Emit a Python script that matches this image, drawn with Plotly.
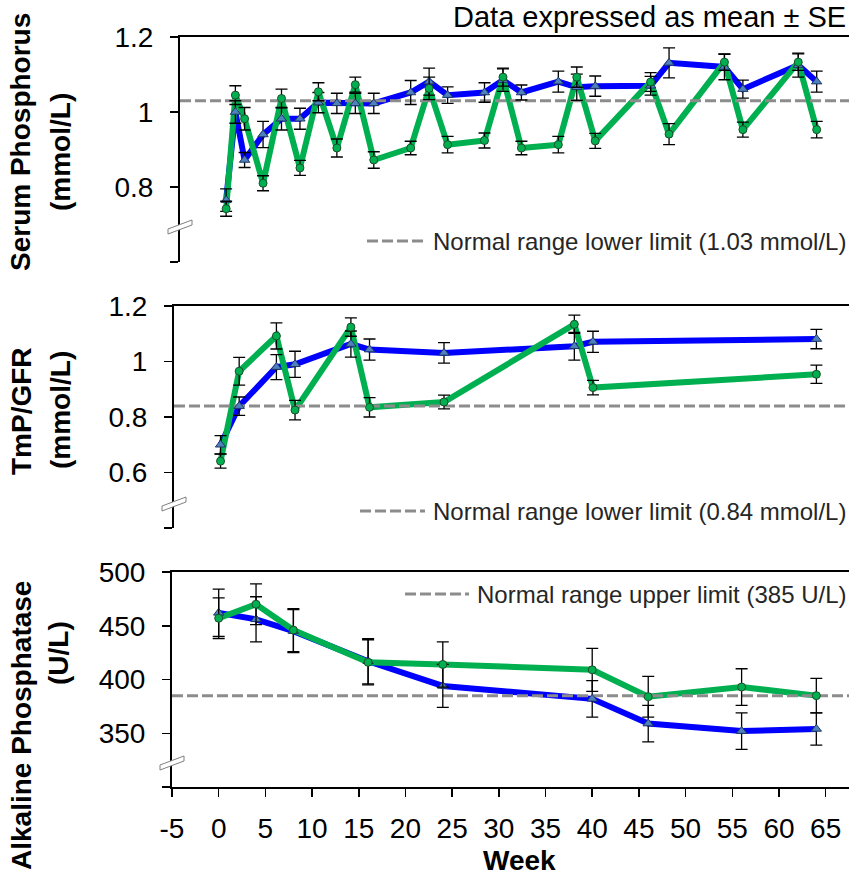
import plotly.graph_objects as go

W, H = 850, 878
FONT = "Liberation Sans, Arial, sans-serif"

# ---------------- data ----------------
# Serum phosphorus (mmol/L)
sp_weeks = [0, 1, 2, 4, 6, 8, 10, 12, 14, 16, 20, 22, 24, 28, 30, 32, 36, 38, 40, 46, 48, 54, 56, 62, 64]
sp_blue = [0.765, 1.00, 0.872, 0.94, 0.982, 0.982, 1.025, 1.023, 1.023, 1.023, 1.052, 1.081, 1.045, 1.052,
           1.085, 1.052, 1.081, 1.066, 1.069, 1.07, 1.131, 1.12, 1.061, 1.125, 1.081]
sp_blue_se = [0.03, 0.03, 0.02, 0.035, 0.03, 0.028, 0.027, 0.027, 0.027, 0.027, 0.032, 0.036, 0.022, 0.026,
              0.03, 0.02, 0.028, 0.035, 0.027, 0.025, 0.04, 0.034, 0.024, 0.032, 0.028]
sp_green = [0.742, 1.045, 0.982, 0.81, 1.036, 0.851, 1.054, 0.904, 1.073, 0.872, 0.904, 1.063, 0.913, 0.924,
            1.093, 0.904, 0.913, 1.093, 0.923, 1.08, 0.941, 1.133, 0.953, 1.133, 0.953]
sp_green_se = [0.02, 0.025, 0.03, 0.02, 0.025, 0.02, 0.024, 0.024, 0.02, 0.022, 0.018, 0.03, 0.022, 0.02,
               0.024, 0.018, 0.022, 0.027, 0.02, 0.025, 0.028, 0.022, 0.02, 0.022, 0.022]
sp_limit = 1.03

# TmP/GFR (mmol/L)
tmp_weeks = [0, 2, 6, 8, 14, 16, 24, 38, 40, 64]
tmp_blue = [0.70, 0.839, 0.98, 0.99, 1.063, 1.043, 1.031, 1.055, 1.071, 1.081]
tmp_blue_se = [0.033, 0.033, 0.045, 0.047, 0.047, 0.038, 0.037, 0.05, 0.038, 0.035]
tmp_green = [0.641, 0.965, 1.092, 0.825, 1.124, 0.835, 0.854, 1.134, 0.906, 0.954]
tmp_green_se = [0.025, 0.05, 0.047, 0.035, 0.033, 0.035, 0.025, 0.033, 0.026, 0.033]
tmp_limit = 0.84

# Alkaline phosphatase (U/L)
alp_weeks = [0, 4, 8, 16, 24, 40, 46, 56, 64]
alp_blue = [462, 456, 445, 417, 394, 382, 359, 352, 354]
alp_blue_se = [22, 21, 20, 21, 20, 17, 17, 17, 15]
alp_green = [457, 470, 446, 416, 414, 409, 384, 393, 385]
alp_green_se = [19, 19, 20, 21, 21, 20, 19, 17, 16]
alp_limit = 385

x_ticks = list(range(-5, 70, 5))
x_range = [-5, 67.5]

# ---------------- styling ----------------
BLUE = "#0000FF"
GREEN = "#00B050"
TRI_FILL = "#4F81BD"
TRI_EDGE = "#1F3864"
CIRC_EDGE = "#1E4D2B"
DASH_COL = "#8C8C8C"
DASH = "11px,4px"
TICK_SIZE = 28


def px(x):
    return x / W


def py(y):
    return 1 - y / H


panels = [
    dict(x="x", y="y", xd=(180, 849), yd=(37, 262), yr=[0.6, 1.2],
         tv=[0.6, 0.8, 1.0, 1.2], tt=["", "0.8", "1", "1.2"],
         weeks=sp_weeks, blue=sp_blue, bse=sp_blue_se, green=sp_green, gse=sp_green_se, lim=sp_limit,
         brk=(180, 228),
         leg_text="Normal range lower limit (1.03 mmol/L)", leg_y=241, leg_dash=(367, 425),
         titles=[("Serum Phosphorus", 21, 142), ("(mmol/L)", 60, 152)]),
    dict(x="x2", y="y2", xd=(174, 849), yd=(306, 528), yr=[0.4, 1.2],
         tv=[0.4, 0.6, 0.8, 1.0, 1.2], tt=["", "0.6", "0.8", "1", "1.2"],
         weeks=tmp_weeks, blue=tmp_blue, bse=tmp_blue_se, green=tmp_green, gse=tmp_green_se, lim=tmp_limit,
         brk=(174, 505),
         leg_text="Normal range lower limit (0.84 mmol/L)", leg_y=511, leg_dash=(360, 425),
         titles=[("TmP/GFR", 21, 411), ("(mmol/L)", 60, 410)]),
    dict(x="x3", y="y3", xd=(172, 849), yd=(572, 787), yr=[300, 500],
         tv=[300, 350, 400, 450, 500], tt=["", "350", "400", "450", "500"],
         weeks=alp_weeks, blue=alp_blue, bse=alp_blue_se, green=alp_green, gse=alp_green_se, lim=alp_limit,
         brk=(172, 764),
         leg_text="Normal range upper limit (385 U/L)", leg_y=594, leg_dash=(405, 469),
         titles=[("Alkaline Phosphatase", 21, 726), ("(U/L)", 58, 653)]),
]

fig = go.Figure()
shapes = []
annotations = []
layout_axes = {}

for i, p in enumerate(panels):
    xa, ya = p["x"], p["y"]
    # lines
    fig.add_trace(go.Scatter(x=p["weeks"], y=p["blue"], mode="lines", xaxis=xa, yaxis=ya,
                             line=dict(color=BLUE, width=6), hoverinfo="skip", showlegend=False))
    fig.add_trace(go.Scatter(x=p["weeks"], y=p["green"], mode="lines", xaxis=xa, yaxis=ya,
                             line=dict(color=GREEN, width=6), hoverinfo="skip", showlegend=False))
    # reference line
    fig.add_trace(go.Scatter(x=x_range, y=[p["lim"], p["lim"]], mode="lines", xaxis=xa, yaxis=ya,
                             line=dict(color=DASH_COL, width=3, dash=DASH), hoverinfo="skip",
                             showlegend=False))
    # markers + SE
    fig.add_trace(go.Scatter(x=p["weeks"], y=p["blue"], mode="markers", xaxis=xa, yaxis=ya,
                             marker=dict(symbol="triangle-up", size=9, color=TRI_FILL,
                                         line=dict(color=TRI_EDGE, width=1)),
                             error_y=dict(type="data", array=p["bse"], color="black", thickness=1.3, width=6),
                             showlegend=False))
    fig.add_trace(go.Scatter(x=p["weeks"], y=p["green"], mode="markers", xaxis=xa, yaxis=ya,
                             marker=dict(symbol="circle", size=8, color=GREEN,
                                         line=dict(color=CIRC_EDGE, width=1)),
                             error_y=dict(type="data", array=p["gse"], color="black", thickness=1.3, width=6),
                             showlegend=False))

    xkey = "xaxis" if xa == "x" else "xaxis" + xa[1:]
    ykey = "yaxis" if ya == "y" else "yaxis" + ya[1:]
    bottom = (i == 2)
    layout_axes[xkey] = dict(
        domain=[px(p["xd"][0]), px(p["xd"][1])], range=x_range, anchor=ya,
        side="bottom" if bottom else "top", automargin=False,
        showline=True, linecolor="black", linewidth=2, mirror=True if bottom else False,
        ticks="outside" if bottom else "", ticklen=8, tickwidth=1.5, tickcolor="black",
        tickvals=x_ticks, ticktext=[str(v) for v in x_ticks], showticklabels=bottom,
        ticklabelstandoff=7,
        tickfont=dict(family=FONT, size=TICK_SIZE, color="black"),
        showgrid=False, zeroline=False, fixedrange=True,
    )
    layout_axes[ykey] = dict(
        domain=[py(p["yd"][1]), py(p["yd"][0])], range=p["yr"], anchor=xa, automargin=False,
        showline=True, linecolor="black", linewidth=2,
        ticks="outside", ticklen=8, tickwidth=1.5, tickcolor="black",
        tickvals=p["tv"], ticktext=p["tt"], ticklabelstandoff=11,
        tickfont=dict(family=FONT, size=TICK_SIZE, color="black"),
        showgrid=False, zeroline=False, fixedrange=True,
    )

    # axis break marker
    bx, by = p["brk"]
    pts = [(bx - 12, by + 6), (bx + 12, by - 3), (bx + 12, by - 8), (bx - 12, by + 1)]
    path = "M {} {} L {} {} L {} {} L {} {} Z".format(
        *[v for pt in pts for v in (px(pt[0]), py(pt[1]))])
    shapes.append(dict(type="path", path=path, xref="paper", yref="paper",
                       fillcolor="white", line=dict(color="#7F7F7F", width=1), layer="above"))

    # legend-like sample
    shapes.append(dict(type="line", xref="paper", yref="paper",
                       x0=px(p["leg_dash"][0]), x1=px(p["leg_dash"][1]),
                       y0=py(p["leg_y"]), y1=py(p["leg_y"]),
                       line=dict(color=DASH_COL, width=3, dash=DASH)))
    annotations.append(dict(text=p["leg_text"], xref="paper", yref="paper",
                            x=px(848), y=py(p["leg_y"]), xanchor="right", yanchor="middle",
                            showarrow=False, font=dict(family=FONT, size=24, color="#262626")))
    for txt, tx, ty in p["titles"]:
        annotations.append(dict(text="<b>" + txt + "</b>", xref="paper", yref="paper",
                                x=px(tx), y=py(ty), xanchor="center", yanchor="middle",
                                textangle=-90, showarrow=False,
                                font=dict(family=FONT, size=28, color="black")))

annotations.append(dict(text="Data expressed as mean ± SE", xref="paper", yref="paper",
                        x=px(848), y=py(17), xanchor="right", yanchor="middle", showarrow=False,
                        font=dict(family=FONT, size=29, color="black")))
annotations.append(dict(text="<b>Week</b>", xref="paper", yref="paper",
                        x=px(519), y=py(860), xanchor="center", yanchor="middle", showarrow=False,
                        font=dict(family=FONT, size=28, color="black")))

fig.update_layout(
    width=W, height=H,
    margin=dict(l=0, r=0, t=0, b=0, pad=0, autoexpand=False),
    paper_bgcolor="white", plot_bgcolor="white",
    showlegend=False,
    shapes=shapes, annotations=annotations,
    **layout_axes,
)

fig.write_html(
    "out.html",
    config={"displayModeBar": False, "staticPlot": True},
    post_script="document.body.style.margin='0';document.body.style.overflow='hidden';",
)
